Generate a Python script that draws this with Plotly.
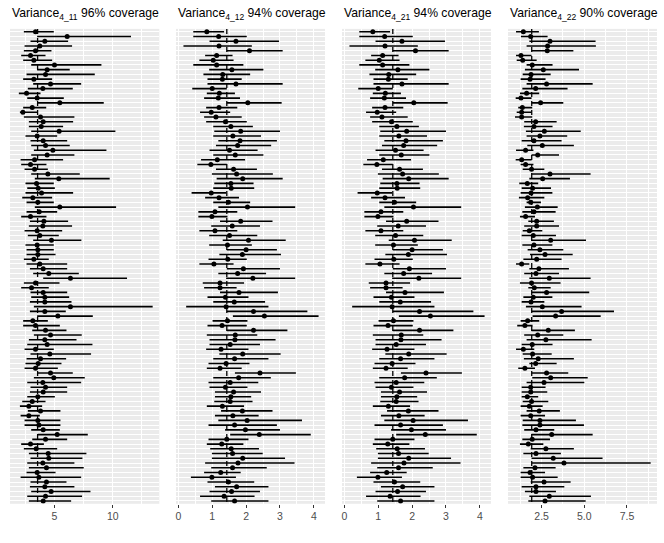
import plotly.graph_objects as go

# ---------------- data ----------------
titles = ["Variance<sub>4_11</sub> 96% coverage",
          "Variance<sub>4_12</sub> 94% coverage",
          "Variance<sub>4_21</sub> 94% coverage",
          "Variance<sub>4_22</sub> 90% coverage"]
true_vals = [3.55, 1.43, 1.43, 1.92]

v11_lo = [2.37, 3.51, 2.94, 2.43, 2.37, 2.14, 2.31, 3.00, 3.51, 2.60, 2.31, 3.17, 2.71, 1.94, 2.66, 3.51, 2.31, 2.03, 2.37, 2.80,
          2.80, 3.00, 2.51, 2.94, 3.00, 3.23, 3.00, 2.09, 2.14, 2.43, 3.00, 3.31, 2.51, 2.66, 2.51, 2.23, 2.60, 3.31, 2.60, 2.14,
          2.89, 2.80, 2.43, 2.71, 3.17, 2.51, 2.60, 2.60, 2.37, 2.60, 2.89, 3.17, 4.03, 2.37, 2.14, 2.94, 3.00, 2.89, 3.23, 2.89,
          3.51, 2.31, 2.31, 3.09, 3.23, 2.80, 2.66, 2.43, 2.94, 2.60, 2.51, 2.43, 3.51, 3.23, 2.66, 2.94, 2.89, 2.66, 2.23, 2.03,
          2.71, 2.09, 2.43, 2.43, 3.00, 3.57, 3.09, 2.14, 2.37, 2.80, 2.94, 2.66, 2.80, 2.60, 2.09, 2.94, 2.89, 3.00, 2.66, 2.80]
v11_est = [3.37, 6.09, 4.17, 3.74, 3.37, 2.94, 3.23, 5.00, 4.37, 4.23, 3.23, 4.66, 4.00, 2.60, 3.51, 5.46, 3.09, 2.29, 3.80, 4.03,
           3.86, 5.40, 3.51, 4.03, 4.23, 4.86, 4.37, 3.29, 2.94, 3.29, 4.43, 5.37, 3.46, 3.60, 3.89, 3.14, 3.57, 5.46, 3.69, 2.94,
           4.09, 4.00, 3.51, 3.74, 4.74, 3.51, 3.57, 3.57, 3.23, 3.74, 4.03, 4.51, 6.37, 3.37, 3.03, 4.03, 4.17, 4.17, 6.37, 4.17,
           5.29, 3.14, 3.37, 4.23, 4.66, 4.17, 4.37, 3.37, 4.60, 3.80, 3.60, 3.37, 4.66, 4.94, 4.00, 4.23, 4.03, 3.57, 3.09, 2.80,
           3.80, 2.80, 3.57, 3.66, 4.03, 5.23, 4.23, 2.94, 3.43, 4.46, 4.51, 4.00, 4.31, 3.51, 3.66, 4.31, 4.17, 4.71, 4.23, 4.03]
v11_hi = [4.94, 11.57, 6.17, 6.51, 4.74, 4.23, 4.80, 9.03, 6.31, 8.46, 4.80, 7.29, 6.57, 3.80, 5.80, 9.23, 4.29, 3.51, 6.71, 6.60,
          5.74, 10.23, 5.23, 6.09, 6.31, 9.46, 6.71, 5.74, 4.31, 4.43, 7.17, 9.74, 4.94, 5.03, 6.60, 4.80, 4.94, 10.29, 5.23, 4.31,
          6.17, 6.51, 5.66, 5.37, 7.31, 4.94, 4.94, 5.09, 4.51, 6.09, 6.09, 7.09, 11.23, 5.43, 4.51, 6.09, 6.26, 6.46, 13.43, 5.97,
          8.29, 4.43, 5.46, 6.03, 7.34, 6.89, 8.26, 4.94, 8.14, 6.00, 5.60, 5.29, 6.57, 7.60, 7.29, 6.09, 6.09, 5.03, 4.23, 3.94,
          5.51, 3.74, 5.51, 5.51, 5.46, 7.86, 6.09, 4.09, 5.23, 7.74, 7.40, 6.71, 7.51, 5.09, 7.29, 6.03, 6.71, 8.09, 7.37, 6.43]

v12_lo = [0.44, 0.44, 0.92, 0.15, 1.43, 0.79, 0.62, 0.44, 0.91, 0.74, 0.86, 0.86, 0.41, 0.84, 0.76, 1.43, 0.82, 0.64, 0.76, 0.82,
          1.03, 1.06, 1.03, 1.18, 1.11, 0.92, 1.03, 0.67, 0.56, 1.11, 0.99, 1.13, 1.06, 1.03, 0.39, 0.79, 1.03, 1.18, 0.59, 0.59,
          1.23, 0.97, 0.62, 0.91, 1.31, 0.91, 1.43, 1.21, 0.89, 0.62, 1.43, 1.18, 1.41, 0.72, 0.76, 1.23, 0.86, 1.03, 0.23, 1.43,
          1.61, 1.01, 0.86, 1.43, 0.84, 0.92, 0.92, 0.82, 1.21, 1.03, 0.89, 0.84, 1.67, 1.03, 0.89, 0.92, 1.08, 1.08, 1.06, 0.84,
          1.26, 1.08, 1.18, 0.89, 1.38, 1.53, 0.89, 0.84, 0.94, 0.99, 0.99, 0.79, 0.97, 0.76, 0.37, 0.86, 1.08, 0.92, 0.64, 0.97]
v12_est = [0.84, 1.19, 1.70, 1.20, 2.10, 1.13, 1.03, 1.13, 1.58, 1.31, 1.30, 1.70, 1.00, 1.21, 1.18, 2.05, 1.20, 0.97, 1.11, 1.39,
           1.55, 1.84, 1.61, 1.82, 1.75, 1.51, 1.68, 1.15, 0.96, 1.63, 1.72, 1.90, 1.55, 1.56, 0.97, 1.20, 1.48, 2.04, 1.08, 0.99,
           1.84, 1.59, 1.08, 1.51, 2.07, 1.45, 2.00, 1.89, 1.46, 1.05, 1.92, 1.75, 2.20, 1.23, 1.23, 1.79, 1.39, 1.65, 1.41, 2.22,
           2.54, 1.45, 1.29, 2.22, 1.68, 1.67, 1.53, 1.26, 1.90, 1.66, 1.41, 1.23, 2.41, 1.78, 1.53, 1.39, 1.63, 1.55, 1.53, 1.30,
           1.89, 1.61, 2.03, 1.66, 1.98, 2.39, 1.43, 1.28, 1.56, 1.60, 1.90, 1.76, 1.60, 1.25, 0.99, 1.48, 1.72, 1.57, 1.35, 1.66]
v12_hi = [1.35, 2.02, 2.97, 2.17, 3.08, 1.60, 1.63, 1.92, 2.51, 2.12, 1.87, 3.08, 1.43, 1.67, 1.82, 3.05, 1.74, 1.53, 1.87, 2.02,
          2.20, 3.00, 2.44, 2.91, 2.74, 2.34, 2.51, 1.97, 1.43, 2.32, 2.79, 3.08, 2.22, 2.24, 1.41, 1.79, 2.12, 3.45, 1.74, 1.45,
          2.78, 2.41, 1.74, 2.33, 3.17, 2.17, 2.91, 3.03, 2.02, 1.63, 3.00, 2.59, 3.45, 1.94, 1.72, 2.94, 2.07, 2.56, 2.66, 3.81,
          4.14, 2.04, 2.02, 3.22, 2.33, 2.87, 2.41, 2.07, 3.02, 2.66, 2.10, 1.87, 3.47, 2.73, 2.36, 2.04, 2.44, 2.15, 2.19, 1.94,
          2.78, 2.37, 3.65, 2.91, 3.00, 3.91, 2.07, 1.92, 2.38, 2.49, 3.15, 3.43, 2.61, 1.84, 1.70, 2.24, 2.66, 2.41, 2.25, 2.66]

# Variance 4_21 mirrors 4_12 (symmetric covariance element)
v21_lo = list(v12_lo)
v21_est = list(v12_est)
v21_hi = list(v12_hi)

v22_lo = [1.00, 1.29, 1.78, 1.62, 1.91, 1.00, 1.04, 1.62, 1.52, 1.39, 1.27, 1.62, 1.37, 1.23, 0.98, 1.91, 1.13, 1.04, 0.94, 1.48,
          1.46, 1.58, 1.62, 1.33, 1.66, 1.00, 1.91, 0.98, 1.27, 1.39, 1.91, 1.78, 1.19, 1.33, 1.27, 1.17, 1.62, 1.52, 1.37, 1.23,
          1.72, 1.48, 1.39, 1.33, 1.91, 1.37, 1.68, 1.82, 1.43, 1.00, 1.78, 1.48, 1.78, 1.23, 1.72, 1.91, 1.43, 1.33, 1.58, 1.91,
          1.97, 1.27, 1.07, 1.91, 1.48, 1.62, 1.33, 1.00, 1.39, 1.46, 1.78, 1.13, 1.91, 1.95, 1.62, 1.33, 1.33, 1.33, 1.39, 1.27,
          1.62, 1.27, 1.39, 1.37, 1.48, 1.91, 1.37, 1.23, 1.86, 1.43, 1.91, 1.91, 1.43, 1.27, 1.27, 1.86, 1.33, 1.52, 1.78, 1.72]
v22_est = [1.43, 1.86, 2.99, 2.85, 2.83, 1.29, 1.39, 1.95, 2.60, 1.88, 1.82, 2.79, 2.15, 1.62, 1.29, 2.44, 1.37, 1.33, 1.33, 2.15,
           2.05, 2.66, 2.40, 2.05, 2.54, 1.56, 2.27, 1.33, 1.56, 1.91, 2.99, 2.56, 1.66, 1.97, 1.88, 1.68, 1.86, 2.25, 2.05, 1.56,
           2.21, 2.21, 1.78, 2.01, 3.03, 2.05, 2.40, 2.70, 2.21, 1.33, 2.34, 2.17, 2.95, 1.91, 2.07, 2.79, 2.01, 1.88, 2.54, 3.67,
           3.32, 1.68, 1.52, 2.89, 2.27, 2.75, 1.95, 1.43, 1.97, 2.30, 2.15, 1.52, 2.79, 3.03, 2.64, 1.86, 1.86, 1.66, 1.91, 1.78,
           2.36, 1.86, 2.40, 2.40, 2.17, 3.09, 1.95, 1.72, 2.75, 2.17, 3.18, 3.81, 2.11, 1.82, 1.97, 2.64, 2.17, 2.17, 2.95, 2.70]
v22_hi = [2.34, 2.85, 5.66, 5.68, 4.36, 1.91, 2.21, 3.14, 4.69, 3.03, 2.73, 5.49, 4.02, 2.36, 1.91, 3.77, 1.95, 1.91, 1.95, 3.38,
          3.14, 4.79, 4.00, 3.67, 4.39, 2.02, 3.52, 1.91, 2.02, 2.66, 5.37, 4.16, 2.30, 3.05, 3.13, 2.66, 2.46, 3.44, 3.32, 2.11,
          3.22, 3.52, 2.54, 3.34, 5.10, 3.13, 3.77, 4.32, 3.67, 1.78, 4.10, 3.52, 5.37, 3.61, 3.03, 5.29, 3.13, 2.66, 4.84, 6.74,
          5.96, 2.36, 1.97, 4.45, 3.77, 5.43, 3.14, 2.07, 3.09, 4.39, 3.38, 2.11, 4.06, 5.20, 5.00, 2.73, 2.83, 2.30, 2.89, 2.56,
          3.57, 2.70, 4.51, 4.98, 3.24, 5.49, 2.99, 2.60, 4.39, 3.63, 6.07, 8.89, 3.32, 2.70, 3.44, 4.20, 3.83, 3.34, 5.39, 5.08]

x_ticks = [[5, 10], [0, 1, 2, 3, 4], [0, 1, 2, 3, 4], [2.5, 5.0, 7.5]]
x_ticktext = [["5", "10"], ["0", "1", "2", "3", "4"], ["0", "1", "2", "3", "4"], ["2.5", "5.0", "7.5"]]
x_minor = [[2.5, 7.5, 12.5], [0.5, 1.5, 2.5, 3.5], [0.5, 1.5, 2.5, 3.5], [1.25, 3.75, 6.25, 8.75]]
x_ranges = [[1.18, 14.0], [-0.07, 4.33], [-0.07, 4.33], [0.53, 9.26]]

panels = [(v11_lo, v11_est, v11_hi), (v12_lo, v12_est, v12_hi),
          (v21_lo, v21_est, v21_hi), (v22_lo, v22_est, v22_hi)]

# ---------------- layout geometry ----------------
W, H = 664, 543
panel_px = [(10, 159.3), (176, 325), (342, 491), (508, 657)]
y_top_px, y_bot_px = 28.9, 503.8
FONT = "Liberation Sans, Arial, Helvetica, sans-serif"

fig = go.Figure()
n = len(v11_est)
rows = list(range(n))

for k, (lo, est, hi) in enumerate(panels):
    sfx = "" if k == 0 else str(k + 1)
    xa, ya = "x" + sfx, "y" + sfx
    # true value reference line
    fig.add_trace(go.Scatter(x=[true_vals[k], true_vals[k]], y=[-0.6, n - 0.4], mode="lines",
                             line=dict(color="black", width=1.3, dash="5px,4px"),
                             xaxis=xa, yaxis=ya, showlegend=False, hoverinfo="skip"))
    # intervals
    xs, ys = [], []
    for i in rows:
        xs += [lo[i], hi[i], None]
        ys += [i, i, None]
    fig.add_trace(go.Scatter(x=xs, y=ys, mode="lines", line=dict(color="black", width=1.6),
                             xaxis=xa, yaxis=ya, showlegend=False, hoverinfo="skip"))
    # point estimates
    fig.add_trace(go.Scatter(x=est, y=rows, mode="markers",
                             marker=dict(color="black", size=5, line=dict(width=0)),
                             xaxis=xa, yaxis=ya, showlegend=False))

    x0, x1 = panel_px[k]
    fig.layout["xaxis" + sfx] = dict(
        domain=[x0 / W, x1 / W], anchor=ya, range=x_ranges[k],
        tickmode="array", tickvals=x_ticks[k], ticktext=x_ticktext[k],
        showgrid=True, gridcolor="white", gridwidth=1.1, zeroline=False,
        ticks="outside", ticklen=3, tickwidth=1, tickcolor="#333333",
        tickfont=dict(family=FONT, size=10.5, color="#4D4D4D"),
        showline=False, fixedrange=True,
        minor=dict(tickvals=x_minor[k], showgrid=True, gridcolor="white", gridwidth=0.55, ticks=""),
    )
    fig.layout["yaxis" + sfx] = dict(
        domain=[1 - y_bot_px / H, 1 - y_top_px / H], anchor=xa, range=[n - 0.4, -0.6],
        tickmode="array", tickvals=rows, showticklabels=False, ticks="",
        showgrid=True, gridcolor="white", gridwidth=1.0, zeroline=False, showline=False, fixedrange=True,
    )
    fig.add_annotation(text=titles[k], xref="paper", yref="paper", x=x0 / W, y=1 - 14 / H,
                       xanchor="left", yanchor="middle", showarrow=False,
                       font=dict(family=FONT, size=12.2, color="black"))

fig.update_layout(width=W, height=H, margin=dict(l=0, r=0, t=0, b=0),
                  paper_bgcolor="white", plot_bgcolor="#EBEBEB", showlegend=False,
                  font=dict(family=FONT), hovermode=False)

fig.write_html("out.html", config={"displayModeBar": False},
               post_script="document.body.style.margin='0';document.body.style.padding='0';")
